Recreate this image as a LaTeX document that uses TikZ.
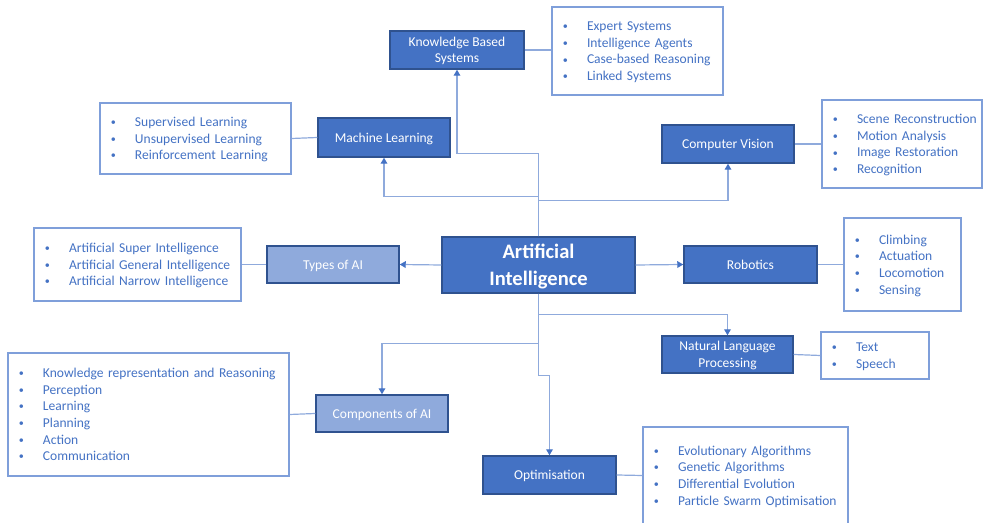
\documentclass[tikz,border=0pt]{standalone}
\usepackage{fontspec}
\setmainfont{Carlito}
\usetikzlibrary{arrows.meta}
\definecolor{boxfill}{HTML}{4472C4}
\definecolor{boxedge}{HTML}{2F528F}
\definecolor{lightfill}{HTML}{8FAADC}
\definecolor{listedge}{HTML}{7F9FDA}
\definecolor{listtext}{HTML}{4472C4}
\definecolor{wire}{HTML}{8FAADC}
% invisible strut with the ascent and descent of a Calibri-like line
\newcommand{\lnstrut}{\rule[-0.269em]{0pt}{1.221em}}
% small list bullet
\newcommand{\smallbullet}{\raisebox{0.6pt}{\fontsize{7.6}{8}\selectfont\textbullet}}
% one bullet item of a list box
\newcommand{\itm}[1]{\mbox{\lnstrut\makebox[20.25pt][l]{\hspace{2.2pt}\smallbullet}#1}}
% one line of a topic box
\newcommand{\tl}[1]{\lnstrut#1}
\begin{document}
\begin{tikzpicture}[x=0.75pt,y=-0.75pt,
  sz/.style 2 args={minimum width=#1*0.75pt, minimum height=#2*0.75pt},
  topic/.style 2 args={draw=boxedge, line width=1.1pt, fill=boxfill, text=white,
    sz={#1}{#2}, inner sep=0pt, align=center,
    font=\fontsize{10.15}{12.5}\selectfont},
  lighttopic/.style 2 args={topic={#1}{#2}, fill=lightfill},
  listbox/.style 2 args={draw=listedge, line width=0.9pt, fill=white, text=listtext,
    sz={#1}{#2}, text width={(#1-16)*0.75pt}, inner xsep=6pt, inner ysep=0pt,
    align=left, font=\fontsize{10.15}{12.5}\selectfont},
  conn/.style={draw=wire, line width=0.9pt},
  arr/.style={conn, -{Triangle[length=4.5pt,width=5pt,fill=boxfill,color=boxfill]}}]
\useasboundingbox (0,0) rectangle (983,523);

% central topic
\node[topic={193}{56}, font=\fontsize{15.4}{18.8}\selectfont\bfseries] (ai) at (538.5,265)
  {\tl{Artificial}\\\tl{Intelligence}};

% sub-topics
\node[topic={134}{38}] (kbs) at (457,50) {\tl{Knowledge Based}\\\tl{Systems}};
\node[topic={132}{39}] (ml) at (384,137.5) {\tl{Machine Learning}};
\node[topic={132}{38}] (cv) at (728,144) {\tl{Computer Vision}};
\node[lighttopic={132}{37}] (types) at (333,264.5) {\tl{Types of AI}};
\node[topic={133}{37}] (rob) at (750.5,264.5) {\tl{Robotics}};
\node[topic={131}{37}] (nlp) at (727.5,354.5) {\tl{Natural Language}\\\tl{Processing}};
\node[lighttopic={132}{37}] (comp) at (382,413.5) {\tl{Components of AI}};
\node[topic={133}{38}] (opt) at (549.5,475) {\tl{Optimisation}};

% detail lists
\node[listbox={171}{88}] (kbsl) at (637.5,51)
  {\itm{Expert Systems}\\\itm{Intelligence Agents}\\\itm{Case-based Reasoning}\\\itm{Linked Systems}};
\node[listbox={191}{71}] (mll) at (195.5,138.5)
  {\itm{Supervised Learning}\\\itm{Unsupervised Learning}\\\itm{Reinforcement Learning}};
\node[listbox={160}{88}] (cvl) at (902,144)
  {\itm{Scene Reconstruction}\\\itm{Motion Analysis}\\\itm{Image Restoration}\\\itm{Recognition}};
\node[listbox={207}{73}] (typesl) at (137.5,264.5)
  {\itm{Artificial Super Intelligence}\\\itm{Artificial General Intelligence}\\\itm{Artificial Narrow Intelligence}};
\node[listbox={117}{93}] (robl) at (902.5,264.5)
  {\itm{Climbing}\\\itm{Actuation}\\\itm{Locomotion}\\\itm{Sensing}};
\node[listbox={108}{47}] (nlpl) at (875,355.5)
  {\itm{Text}\\\itm{Speech}};
\node[listbox={281}{123}] (compl) at (148.5,414.5)
  {\itm{Knowledge representation and Reasoning}\\\itm{Perception}\\\itm{Learning}\\\itm{Planning}\\\itm{Action}\\\itm{Communication}};
\node[listbox={205}{97}] (optl) at (745.5,475.5)
  {\itm{Evolutionary Algorithms}\\\itm{Genetic Algorithms}\\\itm{Differential Evolution}\\\itm{Particle Swarm Optimisation}};

% ties between topics and their lists
\draw[conn] (kbs.east) -- (kbsl.west |- kbs.east);
\draw[conn] (ml.west) -- (mll.east);
\draw[conn] (cv.east) -- (cvl.west);
\draw[conn] (types.west) -- (typesl.east);
\draw[conn] (rob.east) -- (robl.west);
\draw[conn] (nlp.east) -- (nlpl.west);
\draw[conn] (comp.west) -- (compl.east);
\draw[conn] (opt.east) -- (optl.west);

% elbow connectors from the central topic
\draw[arr] (ai.north) -- ++(0,-83) -| (kbs.south);
\draw[arr] (ai.north) -- ++(0,-40) -| (ml.south);
\draw[arr] (ai.north) -- ++(0,-36) -| (cv.south);
\draw[arr] (ai.west) -- (types.east);
\draw[arr] (ai.east) -- (rob.west);
\draw[arr] (ai.south) -- ++(0,21) -| (nlp.north);
\draw[arr] (ai.south) -- ++(0,50) -| (comp.north);
\draw[arr] (ai.south) -- ++(0,82) -| (opt.north);
\end{tikzpicture}
\end{document}
